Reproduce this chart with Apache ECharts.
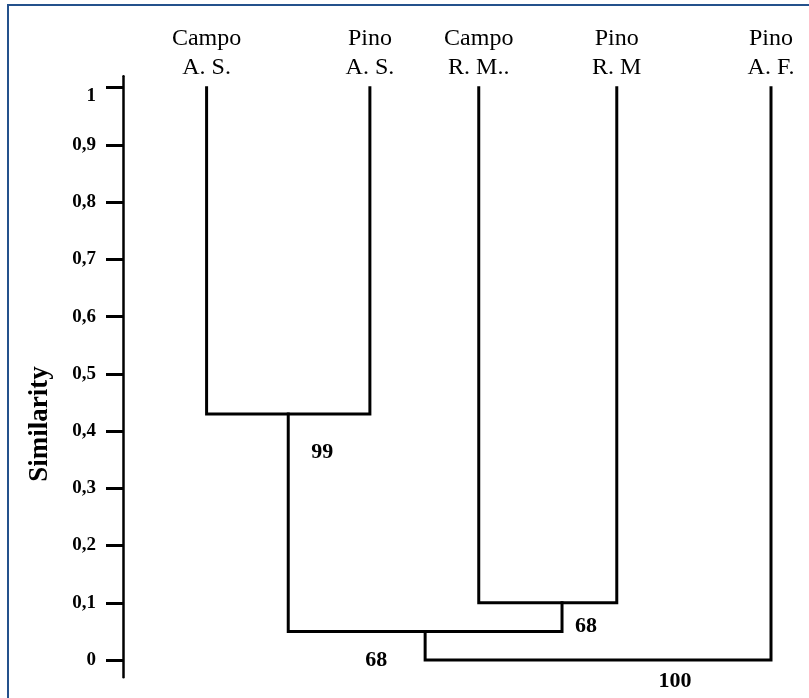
<!DOCTYPE html>
<html>
<head>
<meta charset="utf-8">
<title>Dendrogram – Similarity</title>
<script src="https://cdn.jsdelivr.net/npm/echarts@6/dist/echarts.min.js"></script>
<style>
  html, body { margin: 0; padding: 0; background: #fff; }
  #chart { position: absolute; left: 0; top: 0; width: 809px; height: 698px; }
  #frame {
    position: absolute; left: 7px; top: 4px; width: 802px; height: 694px;
    border-top: 2px solid #24518c; border-left: 2px solid #24518c;
    box-sizing: border-box; pointer-events: none;
  }
</style>
</head>
<body>
<div id="chart"></div>
<div id="frame"></div>
<script>
// ---- data ----
// Leaves of the tree, left to right
const leafNames = ['Campo\nA. S.', 'Pino\nA. S.', 'Campo\nR. M..', 'Pino\nR. M', 'Pino\nA. F.'];
// Agglomeration steps: ids 0-4 are the leaves, step k creates cluster 5 + k
const mergeLeft = [0, 2, 5, 7];
const mergeRight = [1, 3, 6, 4];
const mergeSimilarity = [0.43, 0.10, 0.05, 0];
// Bootstrap support of each step
const bootstrap = [99, 68, 68, 100];
// Similarity axis ticks
const similarityTicks = [0, 0.1, 0.2, 0.3, 0.4, 0.5, 0.6, 0.7, 0.8, 0.9, 1];

// ---- layout ----
const FONT = 'Liberation Serif';
const LEAF_SLOT = [1.29, 3.81, 5.49, 7.62, 10];      // horizontal slot of each leaf
const DROP_SHIFT = [0, 0.22, 0, 0];                   // nudge of the stem below a join
const LABEL_OFFSET = [[34, 38], [24, 24], [-49, 29], [77, 21]];

// Build the branch paths (one U per join) through the axis scales
const dropX = LEAF_SLOT.slice();
const topY = leafNames.map(() => 1);
const branchSeries = [];
const anchors = [];
mergeLeft.forEach((a, k) => {
  const b = mergeRight[k];
  const h = mergeSimilarity[k];
  branchSeries.push({
    type: 'line',
    silent: true,
    symbol: 'none',
    animation: false,
    lineStyle: { color: '#000', width: 3, join: 'miter', cap: 'square' },
    data: [[dropX[a], topY[a]], [dropX[a], h], [dropX[b], h], [dropX[b], topY[b]]]
  });
  const mid = (dropX[a] + dropX[b]) / 2 + DROP_SHIFT[k];
  dropX.push(mid);
  topY.push(h);
  anchors.push([mid, h]);
});

const chart = echarts.init(document.getElementById('chart'), null, { renderer: 'canvas' });
chart.setOption({
  animation: false,
  backgroundColor: 'transparent',
  grid: { left: 123, right: 38, top: 76.3, bottom: 20.8 },
  xAxis: {
    type: 'value',
    position: 'top',
    min: 0,
    max: 10,
    axisLine: { show: false },
    axisTick: { show: false },
    splitLine: { show: false },
    axisLabel: {
      customValues: LEAF_SLOT,
      formatter: v => leafNames[LEAF_SLOT.indexOf(v)],
      fontFamily: FONT,
      fontSize: 24,
      lineHeight: 29,
      color: '#000',
      margin: -6
    }
  },
  yAxis: {
    type: 'value',
    min: -0.03,
    max: 1.02,
    splitLine: { show: false },
    axisLine: { show: true, lineStyle: { color: '#000', width: 2.5 } },
    axisTick: {
      show: true,
      customValues: similarityTicks,
      length: 17,
      lineStyle: { color: '#000', width: 3 }
    },
    axisLabel: {
      customValues: similarityTicks,
      formatter: v => (v === 1 ? '{low|1}' : String(v).replace('.', ',')),
      fontFamily: FONT,
      fontWeight: 'bold',
      fontSize: 19,
      color: '#000',
      margin: 27,
      rich: {
        low: { fontFamily: FONT, fontWeight: 'bold', fontSize: 19, color: '#000', padding: [16, 0, 0, 0] }
      }
    }
  },
  graphic: [{
    type: 'text',
    x: 40,
    y: 424,
    rotation: Math.PI / 2,
    style: {
      text: 'Similarity',
      fontFamily: FONT,
      fontWeight: 'bold',
      fontSize: 27,
      fill: '#000',
      align: 'center',
      verticalAlign: 'middle'
    }
  }],
  series: branchSeries.concat([{
    type: 'scatter',
    silent: true,
    symbolSize: 0,
    itemStyle: { color: '#000' },
    data: anchors.map((p, k) => ({ value: p, label: { offset: LABEL_OFFSET[k] } })),
    label: {
      show: true,
      position: 'inside',
      formatter: p => String(bootstrap[p.dataIndex]),
      fontFamily: FONT,
      fontWeight: 'bold',
      fontSize: 22,
      color: '#000',
      textBorderWidth: 0,
      opacity: 1
    }
  }])
});
</script>
</body>
</html>
